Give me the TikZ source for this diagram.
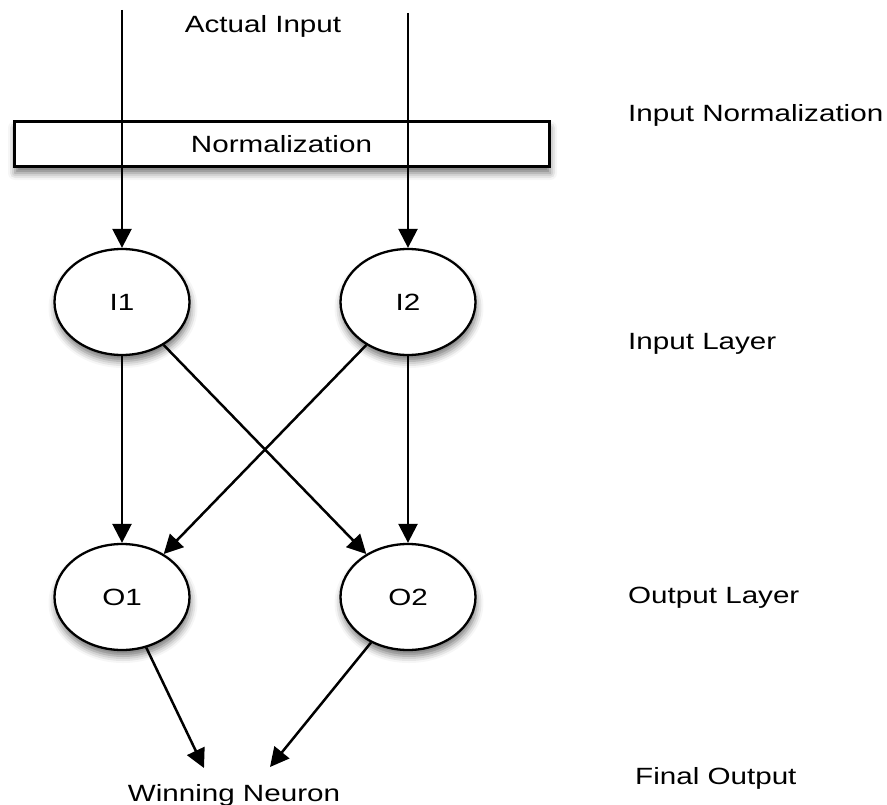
\documentclass[tikz,border=0pt]{standalone}
\usepackage{fontspec}
\setmainfont{Liberation Sans}[FakeStretch=1.26]
\usetikzlibrary{arrows.meta,shapes.geometric,shadows.blur}

\begin{document}
\begin{tikzpicture}[x=1pt,y=-1pt,
  font=\fontsize{23.5}{27}\selectfont,
  softshadow/.style={blur shadow={shadow xshift=1pt,shadow yshift=-6pt,
      shadow blur radius=7pt,shadow opacity=55}},
  neuron/.style={ellipse,draw,line width=2.3pt,fill=white,softshadow,
      minimum width=135pt,minimum height=106pt,inner sep=0pt},
  normbox/.style={rectangle,draw,line width=3pt,fill=white,softshadow,
      minimum width=535pt,minimum height=45pt,inner sep=0pt},
  lbl/.style={inner sep=0pt},
  arr/.style={line width=2.5pt,-{Triangle[length=19pt,width=19pt]}}]
\useasboundingbox (0,0) rectangle (887,805);

% normalization stage
\node[normbox] (norm) at (281.5,144.5) {Normalization};

% neurons
\node[neuron] (I1) at (122,302) {I1};
\node[neuron] (I2) at (408,302) {I2};
\node[neuron] (O1) at (122,597) {O1};
\node[neuron] (O2) at (408,597) {O2};

% incoming signals
\coordinate (in1) at (122,10);
\coordinate (in2) at (408,13);
\draw[arr] (in1) -- (I1);
\draw[arr] (in2) -- (I2);

% input layer to output layer
\draw[arr] (I1) -- (O1);
\draw[arr] (I1) -- (O2);
\draw[arr] (I2) -- (O1);
\draw[arr] (I2) -- (O2);

% winner selection
\node[lbl,anchor=base] (win) at (234,801) {Winning Neuron};
\coordinate (w1) at (204,768);
\coordinate (w2) at (270,767);
\draw[arr] (O1) -- (w1);
\draw[arr] (O2) -- (w2);

% texts
\node[lbl,anchor=base] (actual) at (263,33) {Actual Input};
\node[lbl,anchor=base west] (lnorm) at (628,122) {Input Normalization};
\node[lbl,anchor=base west] (linput) at (628,349) {Input Layer};
\node[lbl,anchor=base west] (loutput) at (628,603) {Output Layer};
\node[lbl,anchor=base west] (lfinal) at (635,784) {Final Output};
\end{tikzpicture}
\end{document}
